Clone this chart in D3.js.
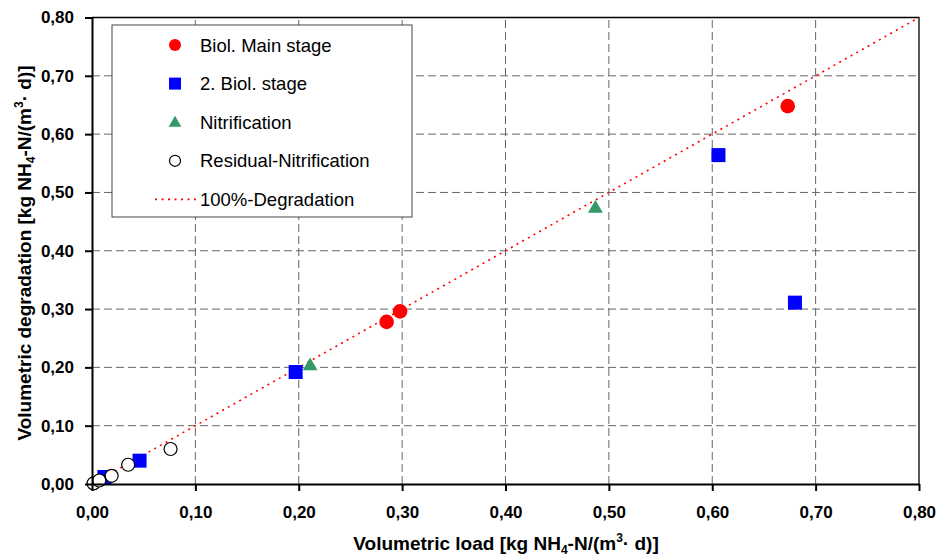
<!DOCTYPE html>
<html>
<head>
<meta charset="utf-8">
<script src="https://cdn.jsdelivr.net/npm/d3@7"></script>
<style>
  body { margin: 0; background: #fff; }
  text { font-family: Arial, "Liberation Sans", sans-serif; }
</style>
</head>
<body>
<div id="chart"></div>
<script>
// data
var mainStage = [[0.285, 0.278], [0.298, 0.296], [0.673, 0.648]]
var secondStage = [[0.012, 0.012], [0.046, 0.040], [0.197, 0.192], [0.606, 0.564], [0.680, 0.311]]
var nitrification = [[0.211, 0.204], [0.487, 0.474]]
var residual = [[0.0015, 0.001], [0.007, 0.006], [0.019, 0.014], [0.035, 0.033], [0.076, 0.060]]
var ticks = [0, 0.1, 0.2, 0.3, 0.4, 0.5, 0.6, 0.7, 0.8]
var legendLabels = ["Biol. Main stage", "2. Biol. stage", "Nitrification", "Residual-Nitrification", "100%-Degradation"]

const W = 937, H = 558
const margin = { top: 17.5, right: 18, bottom: 74, left: 92 }

const svg = d3.select("#chart").append("svg")
    .attr("width", W).attr("height", H)

const x = d3.scaleLinear().domain([0, 0.8]).range([margin.left, W - margin.right])
const y = d3.scaleLinear().domain([0, 0.8]).range([H - margin.bottom, margin.top])
const fmt = d => d3.format(".2f")(d).replace(".", ",")

// grid
const inner = ticks.slice(1, -1)
svg.append("g").selectAll("line").data(inner).enter().append("line")
    .attr("x1", d => x(d)).attr("x2", d => x(d))
    .attr("y1", y(0)).attr("y2", y(0.8))
    .attr("stroke", "#666").attr("stroke-dasharray", "8,4")
svg.append("g").selectAll("line").data(inner).enter().append("line")
    .attr("y1", d => y(d)).attr("y2", d => y(d))
    .attr("x1", x(0)).attr("x2", x(0.8))
    .attr("stroke", "#666").attr("stroke-dasharray", "8,4")

// frame top/right
svg.append("path")
    .attr("d", `M${x(0)},${y(0.8)}H${x(0.8)}V${y(0)}`)
    .attr("fill", "none").attr("stroke", "#000").attr("stroke-width", 1.3)

// 100% line
svg.append("line")
    .attr("x1", x(0)).attr("y1", y(0)).attr("x2", x(0.8)).attr("y2", y(0.8))
    .attr("stroke", "#f00").attr("stroke-width", 1.6).attr("stroke-dasharray", "2,4.5")

// points
svg.append("g").selectAll("rect").data(secondStage).enter().append("rect")
    .attr("x", d => x(d[0]) - 7).attr("y", d => y(d[1]) - 7)
    .attr("width", 14).attr("height", 14).attr("fill", "#0000ff")
svg.append("g").selectAll("circle").data(mainStage).enter().append("circle")
    .attr("cx", d => x(d[0])).attr("cy", d => y(d[1])).attr("r", 7.3).attr("fill", "#ff0000")
const tri = d3.symbol().type(d3.symbolTriangle).size(95)
svg.append("g").selectAll("path").data(nitrification).enter().append("path")
    .attr("d", tri).attr("transform", d => `translate(${x(d[0])},${y(d[1]) + 1})`).attr("fill", "#339966")
svg.append("g").selectAll("circle").data(residual).enter().append("circle")
    .attr("cx", d => x(d[0])).attr("cy", d => y(d[1])).attr("r", 6.5)
    .attr("fill", "#fff").attr("stroke", "#000").attr("stroke-width", 1.2)

// axes
const xAxis = svg.append("g").attr("transform", `translate(0,${y(0)})`)
    .call(d3.axisBottom(x).tickValues(ticks).tickFormat(fmt).tickSize(7).tickSizeOuter(0))
const yAxis = svg.append("g").attr("transform", `translate(${x(0)},0)`)
    .call(d3.axisLeft(y).tickValues(ticks).tickFormat(fmt).tickSize(7).tickSizeOuter(0))
;[xAxis, yAxis].forEach(a => {
  a.select(".domain").attr("stroke-width", 2)
  a.selectAll(".tick line").attr("stroke-width", 2)
  a.selectAll("text").attr("font-size", 17).attr("font-weight", "bold")
    .attr("font-family", "Arial, 'Liberation Sans', sans-serif").attr("fill", "#000")
})
xAxis.selectAll("text").attr("dy", 24)
yAxis.selectAll("text").attr("x", -18)

// axis titles
function unitTitle(t, label) {
  t.attr("font-size", 19).attr("font-weight", "bold").attr("text-anchor", "middle")
  t.append("tspan").text(label + " [kg NH")
  t.append("tspan").text("4").attr("font-size", 12).attr("dy", 4)
  t.append("tspan").text("-N/(m").attr("dy", -4)
  t.append("tspan").text("3").attr("font-size", 12).attr("dy", -8)
  t.append("tspan").text("· d)]").attr("dy", 8)
}
unitTitle(svg.append("text").attr("x", 506).attr("y", 550), "Volumetric load")
unitTitle(svg.append("text").attr("transform", "translate(31,253) rotate(-90)"), "Volumetric degradation")

// legend
const lg = svg.append("g")
lg.append("rect").attr("x", 112).attr("y", 25).attr("width", 300).attr("height", 192)
    .attr("fill", "#fff").attr("stroke", "#444").attr("stroke-width", 1)
const rowY = i => 45 + i * 38.6
lg.selectAll("text").data(legendLabels).enter().append("text")
    .attr("x", 200).attr("y", (d, i) => rowY(i) + 6.5).attr("font-size", 18.5).text(d => d)
lg.append("circle").attr("cx", 175).attr("cy", rowY(0)).attr("r", 6).attr("fill", "#ff0000")
lg.append("rect").attr("x", 169).attr("y", rowY(1) - 6).attr("width", 12).attr("height", 12).attr("fill", "#0000ff")
lg.append("path").attr("d", d3.symbol().type(d3.symbolTriangle).size(70))
    .attr("transform", `translate(175,${rowY(2) + 1})`).attr("fill", "#339966")
lg.append("circle").attr("cx", 175).attr("cy", rowY(3)).attr("r", 5.5)
    .attr("fill", "#fff").attr("stroke", "#000").attr("stroke-width", 1.2)
lg.append("line").attr("x1", 155).attr("x2", 196).attr("y1", rowY(4)).attr("y2", rowY(4))
    .attr("stroke", "#f00").attr("stroke-width", 1.6).attr("stroke-dasharray", "2,4.5")
</script>
</body>
</html>
